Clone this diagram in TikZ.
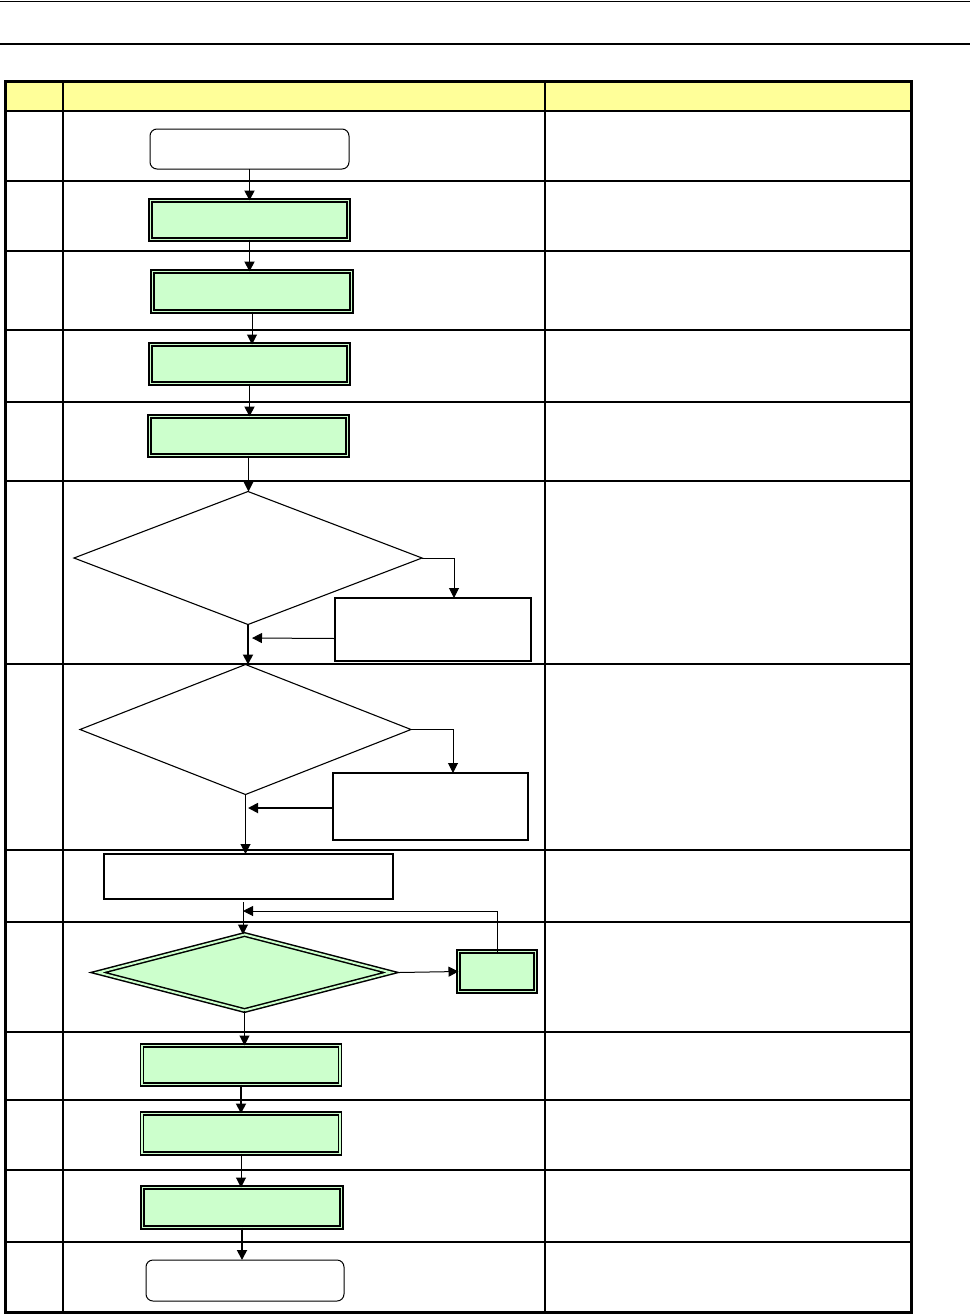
\documentclass[tikz,border=0pt]{standalone}
\usetikzlibrary{shapes.geometric,arrows.meta}
\definecolor{hdr}{HTML}{FFFF99}
\definecolor{lg}{HTML}{CCFFCC}
\begin{document}
\begin{tikzpicture}[x=1pt,y=-1pt,
  thickrule/.style={line width=2.6pt},
  thinrule/.style={line width=1.3pt},
  term/.style={draw, rounded corners=7pt, fill=white, line width=1pt, inner sep=0pt, outer sep=0pt},
  dbox/.style={draw, line width=1.5pt, double=lg, double distance=1.8pt, fill=lg, inner sep=0pt, outer sep=0pt},
  plain/.style={draw, line width=1.4pt, fill=white, inner sep=0pt, outer sep=0pt},
  dia/.style={diamond, draw, line width=1.1pt, fill=white, inner sep=0pt, outer sep=0pt},
  ddia/.style={diamond, draw, line width=1.5pt, double=lg, double distance=2pt, fill=lg, inner sep=0pt, outer sep=0pt},
  arr/.style={-{Triangle[length=10pt,width=10pt]}, line width=1.8pt},
  tarr/.style={-{Triangle[length=10pt,width=10pt]}, line width=1pt}]
\useasboundingbox (0,0) rectangle (970,1315);
% page rules
\draw[line width=1pt] (0,1) -- (970,1);
\draw[line width=2pt] (0,44) -- (970,44);
% table
\fill[hdr] (5,81) rectangle (911,111);
\foreach \yy in {251,330,402,664,850,1170}
  \draw[thinrule] (5,\yy) -- (911,\yy);
\foreach \yy in {111,181,481,922,1032,1100,1242}
  \draw[thickrule] (5,\yy) -- (911,\yy);
\draw[thinrule] (545,111) -- (545,1312);
\draw[thickrule] (545,81) -- (545,111);
\draw[thickrule] (63,81) -- (63,1312);
\draw[line width=3pt] (5,81) rectangle (911,1312);
% nodes
\node[term, minimum width=199pt, minimum height=40pt] (s1) at (249.5,149) {};
\node[dbox, minimum width=198pt, minimum height=39pt] (b2) at (249.5,220) {};
\node[dbox, minimum width=199pt, minimum height=40pt] (b3) at (252,291.5) {};
\node[dbox, minimum width=198pt, minimum height=39pt] (b4) at (249.5,364) {};
\node[dbox, minimum width=198pt, minimum height=39pt] (b5) at (248.5,436) {};
\node[dia, minimum width=348pt, minimum height=133pt] (d1) at (248,558) {};
\node[plain, minimum width=196pt, minimum height=63pt] (r1) at (433,629.5) {};
\node[dia, minimum width=331pt, minimum height=130pt] (d2) at (245.5,729.5) {};
\node[plain, minimum width=195pt, minimum height=67pt] (r2) at (430.5,806.5) {};
\node[plain, minimum width=289pt, minimum height=45pt] (b8) at (248.5,876.5) {};
\node[ddia, minimum width=293pt, minimum height=76pt] (d3) at (244.5,972.5) {};
\node[dbox, minimum width=77pt, minimum height=40pt] (sb) at (497,971.5) {};
\node[dbox, minimum width=198pt, minimum height=39pt] (b10) at (241,1065) {};
\node[dbox, minimum width=198pt, minimum height=40pt] (b11) at (241,1133.5) {};
\node[dbox, minimum width=199pt, minimum height=40pt] (b12) at (242,1207.5) {};
\node[term, minimum width=198pt, minimum height=41pt] (e) at (245,1280.5) {};
% junction coordinates
\coordinate (j1) at (252,638);
\coordinate (j2) at (248,808);
\coordinate (j3) at (243,911);
\coordinate (j4) at (243,902);
% connectors
\draw[arr] (s1.south) -- (s1.south |- b2.north);
\draw[arr] (b2.south) -- (b2.south |- b3.north);
\draw[tarr] (b3.south) -- (b3.south |- b4.north);
\draw[arr] (b4.south) -- (b4.south |- b5.north);
\draw[tarr] (b5.south) -- (b5.south |- d1.north);
\draw[tarr] (d1.east) -| ([xshift=21pt]r1.north);
\draw[tarr] ([yshift=-9pt]r1.west) -- (j1);
\draw[arr] (d1.south) -- (d1.south |- d2.north);
\draw[tarr] (d2.east) -| ([xshift=22.5pt]r2.north);
\draw[arr] ([yshift=-1.5pt]r2.west) -- (j2);
\draw[tarr] (d2.south) -- (d2.south |- b8.north);
\draw[tarr] (j4) -- (j4 |- d3.north);
\draw[tarr] (sb.north) |- (j3);
\draw[tarr] ([xshift=8pt]d3.east) -- (sb.west);
\draw[tarr] (d3.south) -- (d3.south |- b10.north);
\draw[arr] (b10.south) -- (b10.south |- b11.north);
\draw[tarr] (b11.south) -- (b11.south |- b12.north);
\draw[arr] (b12.south) -- (b12.south |- e.north);
\end{tikzpicture}
\end{document}
